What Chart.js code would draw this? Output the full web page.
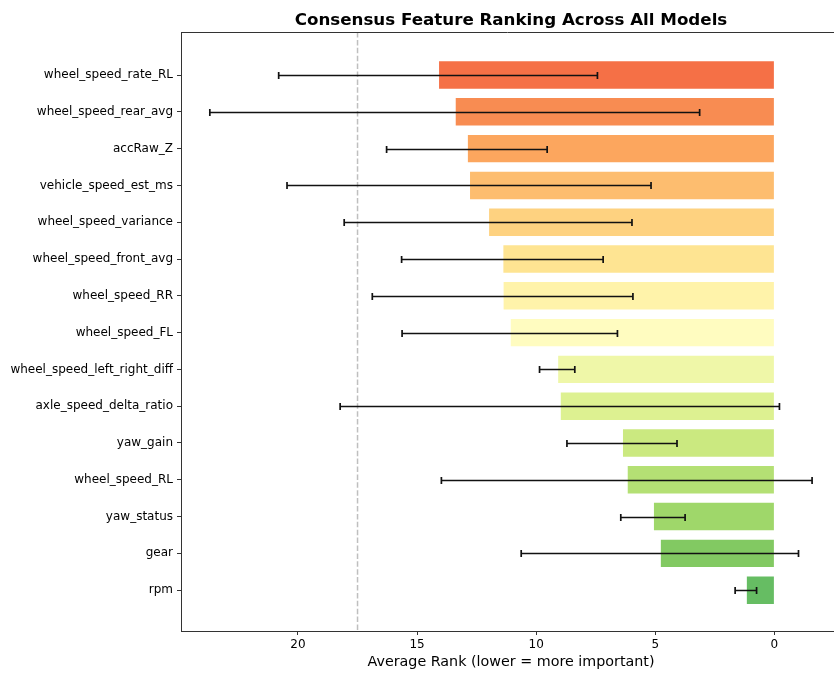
<!DOCTYPE html>
<html>
<head>
<meta charset="utf-8">
<script src="https://cdn.jsdelivr.net/npm/chart.js@4.4.1/dist/chart.umd.min.js"></script>
<style>
  html, body { margin: 0; padding: 0; background: #fff; }
  #wrap { width: 834px; height: 673px; }
</style>
</head>
<body>
<div id="wrap"><canvas id="c" width="834" height="673"></canvas></div>
<script>
// Features, ordered from top to bottom
const features = [
  "wheel_speed_rate_RL", "wheel_speed_rear_avg", "accRaw_Z", "vehicle_speed_est_ms",
  "wheel_speed_variance", "wheel_speed_front_avg", "wheel_speed_RR", "wheel_speed_FL",
  "wheel_speed_left_right_diff", "axle_speed_delta_ratio", "yaw_gain", "wheel_speed_RL",
  "yaw_status", "gear", "rpm"
];
// Mean rank across models
const avgRank = [14.12, 13.42, 12.91, 12.82, 12.02, 11.42, 11.41, 11.11, 9.12, 9.01, 6.40, 6.20, 5.10, 4.81, 1.20];
// Standard deviation of rank across models
const rankStd = [6.69, 10.28, 3.37, 7.64, 6.04, 4.23, 5.47, 4.52, 0.74, 9.22, 2.31, 7.78, 1.35, 5.82, 0.45];
// X-axis ticks
const xTicks = [0, 5, 10, 15, 20];
// Reference threshold line
const thresholdRank = 17.5;

const barColors = [
  "rgb(245,112,70)", "rgb(248,140,82)", "rgb(252,166,94)", "rgb(253,189,111)",
  "rgb(254,210,128)", "rgb(254,228,146)", "rgb(255,243,170)", "rgb(255,252,192)",
  "rgb(239,247,168)", "rgb(221,241,145)", "rgb(203,233,128)", "rgb(180,224,116)",
  "rgb(159,215,106)", "rgb(130,201,98)", "rgb(102,189,99)"
];

const FONT = "'DejaVu Sans', sans-serif";

const decorations = {
  id: "decorations",
  beforeDatasetsDraw(chart) {
    const { ctx, chartArea, scales } = chart;
    const x = scales.x.getPixelForValue(thresholdRank);
    ctx.save();
    ctx.strokeStyle = "rgba(128,128,128,0.5)";
    ctx.lineWidth = 1.5;
    ctx.setLineDash([5.5, 2.4]);
    ctx.beginPath();
    ctx.moveTo(x, chartArea.top);
    ctx.lineTo(x, chartArea.bottom);
    ctx.stroke();
    ctx.restore();
  },
  afterDatasetsDraw(chart) {
    const { ctx, scales } = chart;
    ctx.save();
    ctx.strokeStyle = "#111";
    ctx.lineWidth = 1.7;
    avgRank.forEach((m, i) => {
      const y = Math.round(scales.y.getPixelForValue(i)) + 0.5;
      const x1 = scales.x.getPixelForValue(m - rankStd[i]);
      const x2 = scales.x.getPixelForValue(m + rankStd[i]);
      ctx.beginPath();
      ctx.moveTo(x1, y); ctx.lineTo(x2, y);
      ctx.moveTo(x1, y - 3.5); ctx.lineTo(x1, y + 3.5);
      ctx.moveTo(x2, y - 3.5); ctx.lineTo(x2, y + 3.5);
      ctx.stroke();
    });
    ctx.restore();
  },
  afterDraw(chart) {
    const { ctx, chartArea } = chart;
    ctx.save();
    // top spine
    ctx.strokeStyle = "#333";
    ctx.lineWidth = 1;
    ctx.beginPath();
    ctx.moveTo(chartArea.left, chartArea.top + 0.5);
    ctx.lineTo(chartArea.right, chartArea.top + 0.5);
    ctx.stroke();
    // title
    ctx.fillStyle = "#000";
    ctx.textAlign = "center";
    ctx.textBaseline = "middle";
    ctx.font = "bold 16.7px " + FONT;
    ctx.fillText("Consensus Feature Ranking Across All Models", 511, 20.5);
    // x-axis title
    ctx.font = "14.3px " + FONT;
    ctx.fillStyle = "#000";
    ctx.fillText("Average Rank (lower = more important)", 511, 662);
    ctx.restore();
  }
};

new Chart(document.getElementById("c"), {
  type: "bar",
  data: {
    datasets: [{
      data: avgRank.map((v, i) => ({ x: v, y: i })),
      backgroundColor: barColors,
      borderColor: "rgba(255,255,255,0.3)",
      borderWidth: 1,
      barPercentage: 0.8,
      categoryPercentage: 1.0
    }]
  },
  options: {
    indexAxis: "y",
    responsive: false,
    animation: false,
    devicePixelRatio: 1,
    layout: { padding: { top: 32, right: 0, bottom: 0, left: 0 } },
    plugins: { legend: { display: false }, tooltip: { enabled: false }, title: { display: false } },
    scales: {
      x: {
        type: "linear",
        reverse: true,
        offset: false,
        min: -2.5,
        max: 24.91,
        afterBuildTicks(scale) { scale.ticks = xTicks.map(v => ({ value: v })); },
        afterFit(scale) { scale.height = 42; },
        grid: { offset: false, drawOnChartArea: false, drawTicks: true, tickLength: 4, tickColor: "#333" },
        border: { color: "#333", width: 1 },
        ticks: { color: "#000", font: { family: FONT, size: 12 }, padding: 3, maxRotation: 0 }
      },
      y: {
        type: "linear",
        reverse: true,
        offset: false,
        min: -1.17,
        max: 15.11,
        afterBuildTicks(scale) { scale.ticks = features.map((_, i) => ({ value: i })); },
        afterFit(scale) { scale.width = 181; },
        grid: { offset: false, drawOnChartArea: false, drawTicks: true, tickLength: 4, tickColor: "#333" },
        border: { color: "#333", width: 1 },
        ticks: {
          color: "#000",
          font: { family: FONT, size: 12 },
          padding: 4,
          autoSkip: false,
          callback: (v) => features[v] ?? ""
        }
      }
    }
  },
  plugins: [decorations]
});
</script>
</body>
</html>
